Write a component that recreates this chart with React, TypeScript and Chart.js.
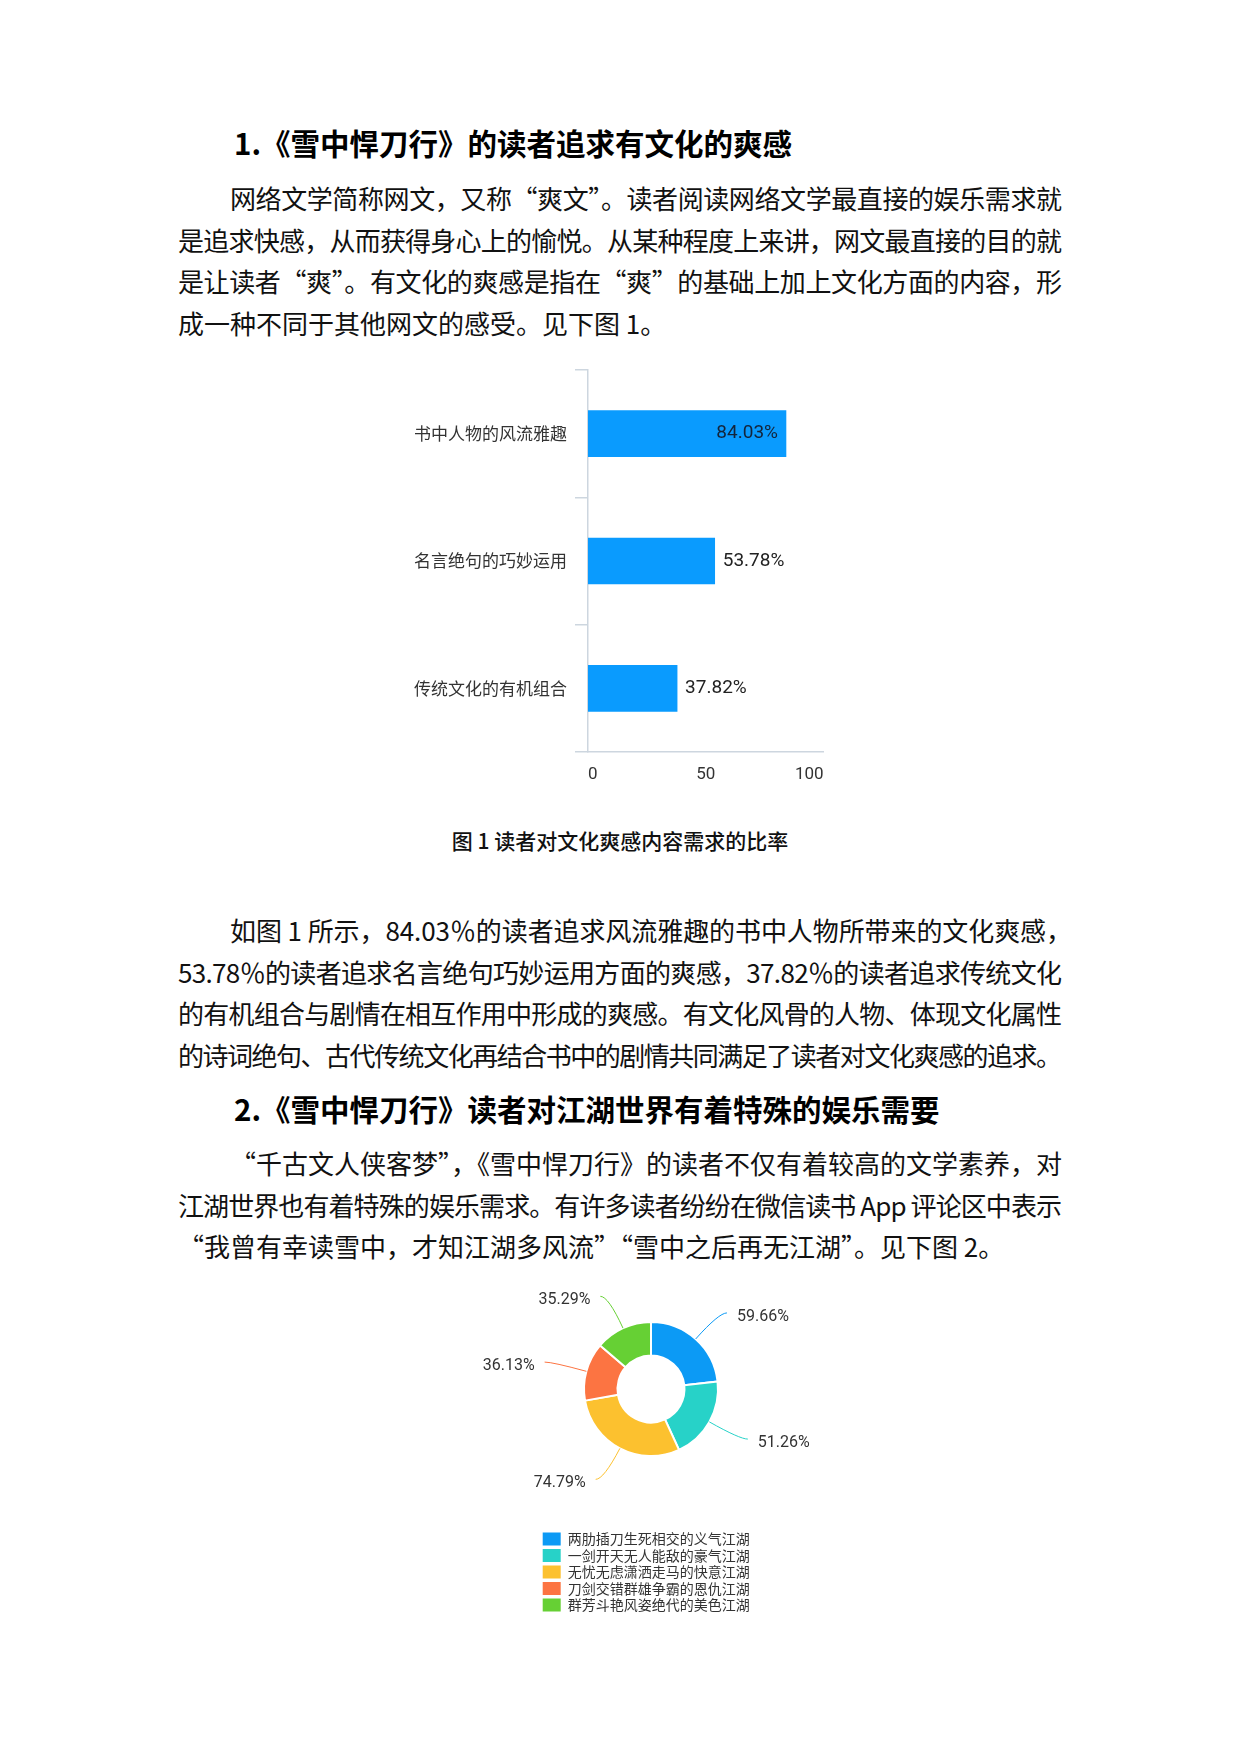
import { useEffect, useLayoutEffect, useRef } from "react"
import { Chart, registerables } from "chart.js"

Chart.register(...registerables)

document.body.style.margin = "0"

const CJK = '"Noto Sans CJK SC", "Noto Sans", sans-serif'
const LATIN = 'Roboto, "Noto Sans CJK SC", sans-serif'
const AXIS = "#cdd6df"
const LINE = 41.5

// figure 1: 读者对文化爽感内容需求的比率
const cultureLabels = ["书中人物的风流雅趣", "名言绝句的巧妙运用", "传统文化的有机组合"]
const cultureRates = [84.03, 53.78, 37.82]
const rateTicks = [0, 50, 100]

// figure 2: 江湖世界
const jianghuLabels = [
  "两肋插刀生死相交的义气江湖",
  "一剑开天无人能敌的豪气江湖",
  "无忧无虑潇洒走马的快意江湖",
  "刀剑交错群雄争霸的恩仇江湖",
  "群芳斗艳风姿绝代的美色江湖",
]
const jianghuRates = [59.66, 51.26, 74.79, 36.13, 35.29]
const jianghuColors = ["#0c9af5", "#27d2c8", "#fcc12f", "#fc7442", "#66d034"]

const para1 = [
  "网络文学简称网文，又称“爽文”。读者阅读网络文学最直接的娱乐需求就",
  "是追求快感，从而获得身心上的愉悦。从某种程度上来讲，网文最直接的目的就",
  "是让读者“爽”。有文化的爽感是指在“爽”的基础上加上文化方面的内容，形",
  "成一种不同于其他网文的感受。见下图 1。",
]
const para2 = [
  "如图 1 所示，84.03％的读者追求风流雅趣的书中人物所带来的文化爽感，",
  "53.78％的读者追求名言绝句巧妙运用方面的爽感，37.82％的读者追求传统文化",
  "的有机组合与剧情在相互作用中形成的爽感。有文化风骨的人物、体现文化属性",
  "的诗词绝句、古代传统文化再结合书中的剧情共同满足了读者对文化爽感的追求。",
]
const para3 = [
  "“千古文人侠客梦”，《雪中悍刀行》的读者不仅有着较高的文学素养，对",
  "江湖世界也有着特殊的娱乐需求。有许多读者纷纷在微信读书 App 评论区中表示",
  "“我曾有幸读雪中，才知江湖多风流”“雪中之后再无江湖”。见下图 2。",
]

function Line({ text, width, justify }: { text: string; width: number; justify: boolean }) {
  const ref = useRef<HTMLSpanElement>(null)

  useLayoutEffect(() => {
    const el = ref.current
    if (!el || !justify) return
    const fit = () => {
      el.style.letterSpacing = "0px"
      const natural = el.getBoundingClientRect().width
      const n = Array.from(text).length
      el.style.letterSpacing = `${(width - natural) / (n - 1)}px`
    }
    fit()
    document.fonts?.ready.then(fit)
  }, [text, width, justify])

  return (
    <div style={{ height: LINE, lineHeight: `${LINE}px`, whiteSpace: "nowrap" }}>
      <span ref={ref}>{text}</span>
    </div>
  )
}

function Paragraph({ lines, center, lastWide = 0 }: { lines: string[]; center: number; lastWide?: number }) {
  return (
    <div
      style={{
        position: "absolute",
        left: 178,
        top: center - LINE / 2,
        width: 884,
        fontFamily: CJK,
        fontSize: 26,
        color: "#111",
      }}
    >
      {lines.map((t, i) => (
        <div key={i} style={{ paddingLeft: i === 0 ? 52 : 0 }}>
          <Line
            text={t}
            width={i === 0 ? 832 + lastWide : 884}
            justify={i < lines.length - 1 || lines === para2}
          />
        </div>
      ))}
    </div>
  )
}

function Heading({ text, center }: { text: string; center: number }) {
  return (
    <div
      style={{
        position: "absolute",
        left: 234,
        top: center - 20,
        height: 40,
        lineHeight: "40px",
        fontFamily: CJK,
        fontWeight: 700,
        fontSize: 29.5,
        color: "#000",
        whiteSpace: "nowrap",
      }}
    >
      {text}
    </div>
  )
}

function CultureBarChart() {
  const canvasRef = useRef<HTMLCanvasElement>(null)

  useEffect(() => {
    if (!canvasRef.current) return

    const valueLabels = {
      id: "valueLabels",
      afterDatasetsDraw(chart: any) {
        const { ctx, chartArea } = chart
        const meta = chart.getDatasetMeta(0)
        ctx.save()
        ctx.font = `19px ${LATIN}`
        ctx.textBaseline = "middle"
        meta.data.forEach((bar: any, i: number) => {
          const text = cultureRates[i].toFixed(2) + "%"
          const w = ctx.measureText(text).width
          const { x, y } = bar.getProps(["x", "y"], true)
          if (x + 8 + w > chartArea.right) {
            // no room to the right: put it inside the bar
            ctx.textAlign = "right"
            ctx.fillStyle = "#14243a"
            ctx.fillText(text, x - 8, y)
          } else {
            ctx.textAlign = "left"
            ctx.fillStyle = "#222"
            ctx.fillText(text, x + 8, y)
          }
        })
        ctx.restore()
      },
    }

    const chart = new Chart(canvasRef.current, {
      type: "bar",
      data: {
        labels: cultureLabels,
        datasets: [
          {
            data: cultureRates,
            backgroundColor: "#0a9bfe",
            barThickness: 46,
          },
        ],
      },
      options: {
        indexAxis: "y",
        animation: false,
        responsive: true,
        maintainAspectRatio: false,
        layout: { padding: { top: 20, right: 26.4, bottom: 0, left: 0 } },
        plugins: {
          legend: { display: false },
          tooltip: { enabled: false },
        },
        scales: {
          x: {
            min: 0,
            max: 100,
            afterFit: (s: any) => {
              s.height = 48
            },
            afterBuildTicks: (s: any) => {
              s.ticks = rateTicks.map((v) => ({ value: v }))
            },
            grid: { display: false, drawTicks: false },
            border: { display: true, color: AXIS, width: 1.5 },
            ticks: {
              padding: 13,
              align: "inner",
              color: "#333",
              font: { family: LATIN, size: 17 },
            },
          },
          y: {
            afterFit: (s: any) => {
              s.width = 198
            },
            grid: { drawOnChartArea: false, tickLength: 13, color: AXIS, lineWidth: 1.5 },
            border: { color: AXIS, width: 1.5 },
            ticks: {
              padding: 8,
              color: "#333",
              font: { family: CJK, size: 17 },
            },
          },
        },
      },
      plugins: [valueLabels],
    } as any)

    return () => chart.destroy()
  }, [])

  return (
    <div style={{ position: "absolute", left: 390, top: 350, width: 460, height: 450 }}>
      <canvas ref={canvasRef} />
    </div>
  )
}

function JianghuDoughnut() {
  const canvasRef = useRef<HTMLCanvasElement>(null)

  useEffect(() => {
    if (!canvasRef.current) return

    const sliceLabels = {
      id: "sliceLabels",
      afterDatasetsDraw(chart: any) {
        const { ctx } = chart
        const meta = chart.getDatasetMeta(0)
        ctx.save()
        ctx.font = `16px ${LATIN}`
        ctx.textBaseline = "middle"
        ctx.lineWidth = 1
        meta.data.forEach((arc: any, i: number) => {
          const { x, y, startAngle, endAngle, outerRadius } = arc.getProps(
            ["x", "y", "startAngle", "endAngle", "outerRadius"],
            true
          )
          const mid = (startAngle + endAngle) / 2
          const cos = Math.cos(mid)
          const sin = Math.sin(mid)
          const sx = x + cos * outerRadius
          const sy = y + sin * outerRadius
          const bx = x + cos * (outerRadius + 35)
          const by = y + sin * (outerRadius + 35)
          const dir = cos >= 0 ? 1 : -1
          const ex = bx + dir * 8
          ctx.strokeStyle = jianghuColors[i]
          ctx.beginPath()
          ctx.moveTo(sx, sy)
          ctx.quadraticCurveTo(bx, by, ex, by)
          ctx.stroke()
          ctx.fillStyle = "#333"
          ctx.textAlign = dir > 0 ? "left" : "right"
          ctx.fillText(jianghuRates[i].toFixed(2) + "%", ex + dir * 10, by + 4)
        })
        ctx.restore()
      },
    }

    const defaultLabels = (Chart as any).overrides.doughnut.plugins.legend.labels.generateLabels

    const chart = new Chart(canvasRef.current, {
      type: "doughnut",
      data: {
        labels: jianghuLabels,
        datasets: [
          {
            data: jianghuRates,
            backgroundColor: jianghuColors,
            borderColor: "#fff",
            borderWidth: 2,
          },
        ],
      },
      options: {
        animation: false,
        responsive: true,
        maintainAspectRatio: false,
        radius: 67,
        cutout: "50%",
        layout: { padding: { top: 8.5, left: 100.2, right: 78.2, bottom: 18 } },
        plugins: {
          tooltip: { enabled: false },
          legend: {
            position: "bottom",
            align: "start",
            labels: {
              boxWidth: 18,
              boxHeight: 13,
              padding: 2.5,
              color: "#333",
              font: { family: CJK, size: 14 },
              generateLabels: (c: any) =>
                defaultLabels(c).map((item: any) => ({ ...item, lineWidth: 0 })),
            },
          },
        },
      },
      plugins: [sliceLabels],
    } as any)

    return () => chart.destroy()
  }, [])

  return (
    <div style={{ position: "absolute", left: 440, top: 1240, width: 400, height: 400 }}>
      <canvas ref={canvasRef} />
    </div>
  )
}

export default function App() {
  return (
    <div style={{ position: "relative", width: 1240, height: 1754, background: "#fff", overflow: "hidden" }}>
      <Heading text="1.《雪中悍刀行》的读者追求有文化的爽感" center={142} />
      <Paragraph lines={para1} center={198} />
      <CultureBarChart />
      <div
        style={{
          position: "absolute",
          left: 0,
          width: 1240,
          top: 826,
          height: 28,
          lineHeight: "28px",
          textAlign: "center",
          fontFamily: CJK,
          fontWeight: 500,
          fontSize: 21,
          color: "#111",
        }}
      >
        图 1 读者对文化爽感内容需求的比率
      </div>
      <Paragraph lines={para2} center={930} lastWide={10} />
      <Heading text="2.《雪中悍刀行》读者对江湖世界有着特殊的娱乐需要" center={1108} />
      <Paragraph lines={para3} center={1163} />
      <JianghuDoughnut />
    </div>
  )
}
